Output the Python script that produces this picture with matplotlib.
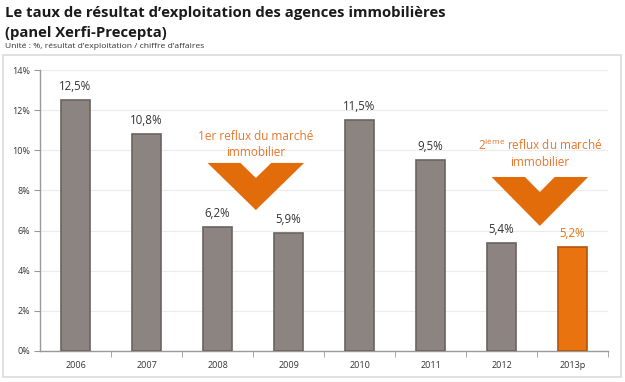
import matplotlib.pyplot as plt
from matplotlib.patches import Polygon, Rectangle
import numpy as np

# data
years = ["2006", "2007", "2008", "2009", "2010", "2011", "2012", "2013p"]
values = [12.5, 10.8, 6.2, 5.9, 11.5, 9.5, 5.4, 5.2]
labels = ["12,5%", "10,8%", "6,2%", "5,9%", "11,5%", "9,5%", "5,4%", "5,2%"]
yticks = [0, 2, 4, 6, 8, 10, 12, 14]

GRAY = "#8c8480"
GRAY_EDGE = "#6a6360"
ORANGE = "#e8730f"
TXT = "#333333"

plt.rcParams['font.family'] = ['Open Sans', 'DejaVu Sans']

W, H = 625, 382
fig = plt.figure(figsize=(W / 100, H / 100), dpi=100)
fig.patch.set_facecolor("white")

# chart frame
frame = Rectangle((3 / W, 1 - 377 / H), 618 / W, 322 / H,
                  transform=fig.transFigure, facecolor="white",
                  edgecolor="#dcdcdc", lw=1.2, zorder=-5)
fig.add_artist(frame)

# titles
fig.text(5 / W, 1 - 13 / H, "Le taux de résultat d’exploitation des agences immobilières",
         fontsize=10.75, fontweight="bold", color="#1a1a1a", va="center", ha="left")
fig.text(5 / W, 1 - 33 / H, "(panel Xerfi-Precepta)",
         fontsize=10.75, fontweight="bold", color="#1a1a1a", va="center", ha="left")
fig.text(5 / W, 1 - 47 / H, "Unité : %, résultat d’exploitation / chiffre d’affaires",
         fontsize=6.1, color="#333333", va="center", ha="left")

# axes: x 40..608, y 70..351
ax = fig.add_axes([40 / W, 1 - 351 / H, 568 / W, 281 / H])
ax.set_facecolor("none")
x = np.arange(len(years))
colors = [GRAY] * (len(years) - 1) + [ORANGE]
edges = [GRAY_EDGE] * (len(years) - 1) + ["#b55408"]
ax.bar(x, values, width=0.41, color=colors, edgecolor=edges, linewidth=1.2, zorder=3)

for i, (v, lab) in enumerate(zip(values, labels)):
    c = ORANGE if i == len(values) - 1 else TXT
    ax.text(i, v + 0.35, lab, ha="center", va="bottom", fontsize=8.3, color=c, zorder=4)

ax.set_xlim(-0.5, len(years) - 0.5)
ax.set_ylim(0, 14)
ax.set_yticks(yticks)
ax.set_yticklabels([f"{t}%" for t in yticks], fontsize=6.5, color="#333333")
ax.set_xticks(x)
ax.set_xticklabels(years, fontsize=6.5, color="#333333")
ax.tick_params(axis="x", length=0, pad=7)
ax.set_xticks(np.arange(len(years)) + 0.5, minor=True)
ax.tick_params(axis="x", which="minor", length=4, direction="out", color="#999999")
ax.tick_params(axis="y", length=4, direction="out", color="#999999", pad=3)
ax.grid(axis="y", color="#ececec", lw=0.8, zorder=0)
for s in ["top", "right"]:
    ax.spines[s].set_visible(False)
for s in ["left", "bottom"]:
    ax.spines[s].set_color("#999999")
    ax.spines[s].set_linewidth(1)

# chevrons
def chevron(cx, half, top, bottom, notch):
    depth = top - notch
    slope = (top - bottom) / half
    nx = depth / slope
    pts = [(cx - half, top), (cx - nx, top), (cx, notch), (cx + nx, top),
           (cx + half, top), (cx, bottom)]
    ax.add_patch(Polygon(pts, closed=True, facecolor="#e36c0a", edgecolor="none", zorder=5))

chevron(2.54, 0.68, 9.37, 7.02, 8.62)
chevron(6.54, 0.68, 8.67, 6.23, 7.92)

ax.text(2.54, 10.3, "1er reflux du marché\nimmobilier", ha="center", va="center",
        fontsize=8.5, color="#e8762d", linespacing=1.3, zorder=6)
ax.text(6.54, 9.85, "2$^{\\mathregular{ième}}$ reflux du marché\nimmobilier", ha="center", va="center",
        fontsize=8.5, color="#e8762d", linespacing=1.3, zorder=6)

fig.savefig("out.png", dpi=100)
